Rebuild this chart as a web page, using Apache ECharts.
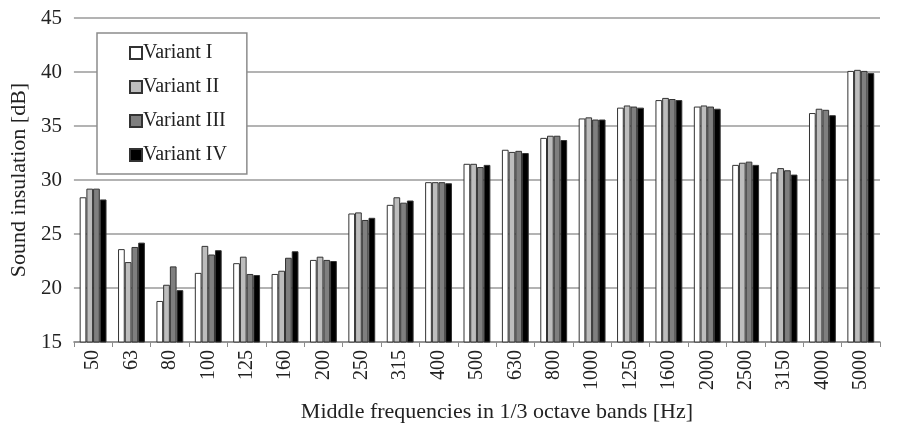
<!DOCTYPE html>
<html>
<head>
<meta charset="utf-8">
<script src="https://cdn.jsdelivr.net/npm/echarts@6/dist/echarts.min.js"></script>
<style>
  html, body { margin: 0; padding: 0; background: #fff; }
  #chart { width: 899px; height: 428px; }
</style>
</head>
<body>
<div id="chart"></div>
<script>
// 频带（1/3 倍频程中心频率）
const frequencies = ['50', '63', '80', '100', '125', '160', '200', '250', '315', '400', '500',
  '630', '800', '1000', '1250', '1600', '2000', '2500', '3150', '4000', '5000']

// 各方案隔声量 [dB]
const variantI   = [28.4, 23.6, 18.8, 21.4, 22.3, 21.3, 22.6, 26.9, 27.7, 29.8, 31.5,
  32.8, 33.9, 35.7, 36.7, 37.4, 36.8, 31.4, 30.7, 36.2, 40.1]
const variantII  = [29.2, 22.4, 20.3, 23.9, 22.9, 21.6, 22.9, 27.0, 28.4, 29.8, 31.5,
  32.6, 34.1, 35.8, 36.9, 37.6, 36.9, 31.6, 31.1, 36.6, 40.2]
const variantIII = [29.2, 23.8, 22.0, 23.1, 21.3, 22.8, 22.6, 26.3, 27.9, 29.8, 31.2,
  32.7, 34.1, 35.6, 36.8, 37.5, 36.8, 31.7, 30.9, 36.5, 40.1]
const variantIV  = [28.2, 24.2, 19.8, 23.5, 21.2, 23.4, 22.5, 26.5, 28.1, 29.7, 31.4,
  32.5, 33.7, 35.6, 36.7, 37.4, 36.6, 31.4, 30.5, 36.0, 39.9]

const yTicks = { min: 15, max: 45, interval: 5 }

const serif = '"Liberation Serif", "DejaVu Serif", serif'

const seriesDefs = [
  { name: 'Variant I',   data: variantI,   color: '#ffffff' },
  { name: 'Variant II',  data: variantII,  color: '#bdbdbd' },
  { name: 'Variant III', data: variantIII, color: '#7f7f7f' },
  { name: 'Variant IV',  data: variantIV,  color: '#000000' },
]

const chart = echarts.init(document.getElementById('chart'))
chart.setOption({
  animation: false,
  textStyle: { fontFamily: serif },
  grid: { left: 72, right: 19, top: 18, bottom: 83 },
  legend: {
    orient: 'vertical',
    left: 97, top: 33,
    padding: [10, 20, 9, 32],
    itemGap: 14,
    itemWidth: 12, itemHeight: 12,
    backgroundColor: '#fff',
    borderColor: '#8c8c8c', borderWidth: 1.5,
    textStyle: { fontFamily: serif, fontSize: 20, color: '#222', padding: [0, 0, 0, -4] },
    data: seriesDefs.map(s => ({ name: s.name, icon: 'rect' })),
  },
  xAxis: {
    type: 'category',
    data: frequencies,
    name: 'Middle frequencies in 1/3 octave bands [Hz]',
    nameLocation: 'middle',
    nameGap: 59,
    nameTextStyle: { fontFamily: serif, fontSize: 22, color: '#222', padding: [0, 0, 0, 40] },
    axisLine: { lineStyle: { color: '#8c8c8c', width: 1.5 } },
    axisTick: { show: true, length: 5, lineStyle: { color: '#8c8c8c' } },
    axisLabel: { rotate: 90, fontSize: 20, color: '#222', margin: 8, fontFamily: serif },
  },
  yAxis: {
    type: 'value',
    min: yTicks.min, max: yTicks.max, interval: yTicks.interval,
    name: 'Sound insulation [dB]',
    nameLocation: 'middle',
    nameGap: 40,
    nameTextStyle: { fontFamily: serif, fontSize: 22, color: '#222' },
    axisLine: { show: false },
    axisTick: { show: false },
    axisLabel: { fontSize: 21, color: '#222', margin: 12, fontFamily: serif },
    splitLine: { lineStyle: { color: '#9a9a9a', width: 1.5 } },
  },
  series: seriesDefs.map(s => ({
    name: s.name,
    type: 'bar',
    data: s.data,
    barGap: '0%',
    barCategoryGap: '30%',
    itemStyle: { color: s.color, borderColor: '#333', borderWidth: 1 },
  })),
})
</script>
</body>
</html>
